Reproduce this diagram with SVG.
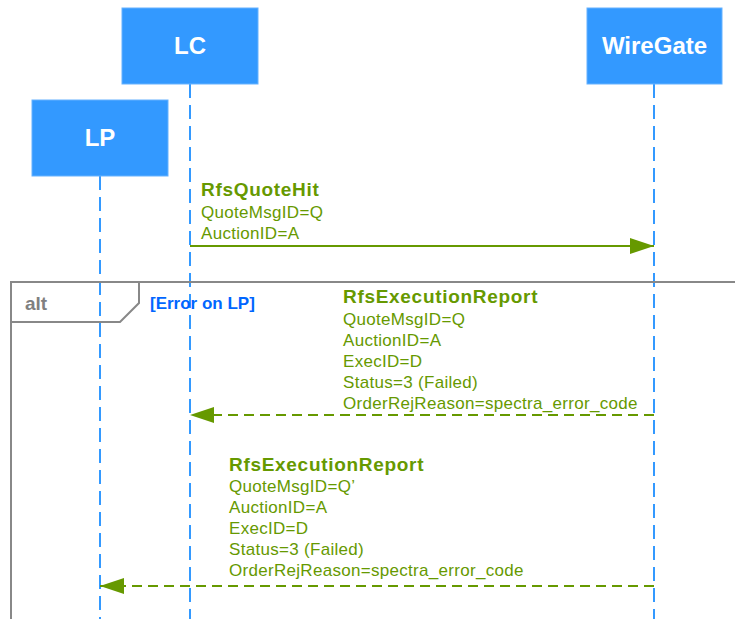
<svg xmlns="http://www.w3.org/2000/svg" width="735" height="619" viewBox="0 0 735 619">
<style>
.box{fill:#3399FF;stroke:#66B2FF;stroke-width:1}
.ptext{font-family:"Liberation Sans",Arial,sans-serif;font-weight:bold;font-size:24px;fill:#ffffff;text-anchor:middle}
.life{stroke:#3399FF;stroke-width:2;stroke-dasharray:14 7;fill:none}
.msg{stroke:#669900;stroke-width:2;fill:none}
.dmsg{stroke:#669900;stroke-width:2;fill:none;stroke-dasharray:10 6}
.title{font-family:"Liberation Sans",Arial,sans-serif;font-weight:bold;font-size:19px;fill:#669900;letter-spacing:0.7px}
.line{font-family:"Liberation Sans",Arial,sans-serif;font-size:17px;fill:#669900;letter-spacing:0.3px}
.frame{stroke:#888888;stroke-width:2;fill:none}
.alt{font-family:"Liberation Sans",Arial,sans-serif;font-weight:bold;font-size:19px;fill:#808080}
.guard{font-family:"Liberation Sans",Arial,sans-serif;font-weight:bold;font-size:17px;fill:#0066FF}
</style>
<defs>
<marker id="ah" markerWidth="24" markerHeight="16" refX="24" refY="8" orient="auto" markerUnits="userSpaceOnUse">
<path d="M0,0 L24,8 L0,16 Z" fill="#669900"/>
</marker>
</defs>
<rect width="735" height="619" fill="#ffffff"/>
<g id="lifelines">
<line class="life" x1="190" y1="84" x2="190" y2="619"/>
<line class="life" x1="100" y1="176" x2="100" y2="619"/>
<line class="life" x1="654" y1="84" x2="654" y2="619"/>
</g>
<g id="node-LC">
<rect class="box" x="122" y="8" width="136" height="76"/>
<text class="ptext" x="190" y="54">LC</text>
</g>
<g id="node-LP">
<rect class="box" x="32" y="100" width="136" height="76"/>
<text class="ptext" x="100" y="146">LP</text>
</g>
<g id="node-WireGate">
<rect class="box" x="587" y="8" width="135" height="76"/>
<text class="ptext" x="654.5" y="54">WireGate</text>
</g>
<g id="alt-frame">
<path class="frame" d="M735,282 L11,282 L11,619"/>
<path class="frame" d="M11,322 L120,322 L139,303 L139,282"/>
<text class="alt" x="25" y="310">alt</text>
<text class="guard" x="150" y="309">[Error on LP]</text>
</g>
<g id="connectors">
<line class="msg" x1="190" y1="246" x2="654" y2="246" marker-end="url(#ah)"/>
<line class="dmsg" x1="654" y1="415" x2="190" y2="415" marker-end="url(#ah)"/>
<line class="dmsg" x1="654" y1="586" x2="100" y2="586" marker-end="url(#ah)"/>
</g>
<g id="labels">
<text class="title" x="201" y="196">RfsQuoteHit</text>
<text class="line" x="201" y="218">QuoteMsgID=Q</text>
<text class="line" x="201" y="239">AuctionID=A</text>
<text class="title" x="343" y="303">RfsExecutionReport</text>
<text class="line" x="343" y="325">QuoteMsgID=Q</text>
<text class="line" x="343" y="346">AuctionID=A</text>
<text class="line" x="343" y="367">ExecID=D</text>
<text class="line" x="343" y="388">Status=3 (Failed)</text>
<text class="line" x="343" y="409">OrderRejReason=spectra_error_code</text>
<text class="title" x="229" y="471">RfsExecutionReport</text>
<text class="line" x="229" y="492">QuoteMsgID=Q’</text>
<text class="line" x="229" y="513">AuctionID=A</text>
<text class="line" x="229" y="534">ExecID=D</text>
<text class="line" x="229" y="555">Status=3 (Failed)</text>
<text class="line" x="229" y="576">OrderRejReason=spectra_error_code</text>
</g>
</svg>
